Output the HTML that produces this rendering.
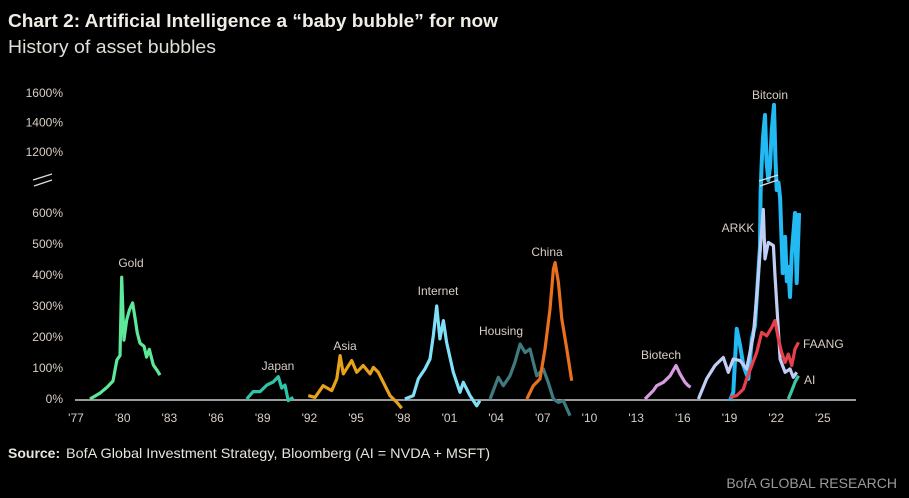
<!DOCTYPE html>
<html><head><meta charset="utf-8">
<style>
html,body{margin:0;padding:0;background:#000;width:909px;height:498px;overflow:hidden}
svg{display:block;font-family:"Liberation Sans",sans-serif}
</style></head>
<body>
<svg id="chart" width="909" height="498" viewBox="0 0 909 498">
<rect width="909" height="498" fill="#000"/>
<text x="8" y="27" font-size="18" font-weight="bold" fill="#f0ece6" textLength="490" lengthAdjust="spacingAndGlyphs">Chart 2: Artificial Intelligence a “baby bubble” for now</text>
<text x="8" y="53" font-size="18" fill="#e0dcd6" textLength="208" lengthAdjust="spacingAndGlyphs">History of asset bubbles</text>
<g id="yaxis"></g>
<g id="xaxis"></g>
<line x1="75" y1="400" x2="856" y2="400" stroke="#9a9a9a" stroke-width="2"/>
<g stroke="#ddd" stroke-width="1.3">
<line x1="33" y1="180" x2="52" y2="174"/><line x1="34" y1="186" x2="52" y2="180"/>
</g>
<g id="series"></g>
<g stroke="#ddd" stroke-width="1.3">
<line x1="759" y1="181" x2="778" y2="175"/><line x1="760" y1="186" x2="778" y2="180"/>
</g>
<g id="labels"></g>
<text x="8" y="458" font-size="14" fill="#e8e4de"><tspan font-weight="bold">Source:</tspan><tspan x="66" textLength="424" lengthAdjust="spacingAndGlyphs">BofA Global Investment Strategy, Bloomberg (AI = NVDA + MSFT)</tspan></text>
<text x="897" y="488" font-size="14" fill="#9a9a9a" text-anchor="end">BofA GLOBAL RESEARCH</text>
</svg>
<script>
const yTicks = [0,100,200,300,400,500,600,1200,1400,1600];
const xTicks = [1977,1980,1983,1986,1989,1992,1995,1998,2001,2004,2007,2010,2013,2016,2019,2022,2025];

const goldYears = [1977.9,1978.54,1979.0,1979.38,1979.63,1979.83,1979.94,1980.08,1980.26,1980.43,1980.64,1980.8,1980.94,1981.11,1981.37,1981.54,1981.71,1981.97,1982.19,1982.4];
const goldValues = [0,19,38,58,126,140,393,190,255,287,310,260,213,180,170,135,160,110,94,77];
const japanYears = [1987.97,1988.39,1988.83,1989.26,1989.68,1990.0,1990.22,1990.43,1990.64,1990.96];
const japanValues = [0,24,24,45,55,72,35,45,-5,5];
const asiaYears = [1991.93,1992.36,1992.89,1993.43,1993.76,1993.97,1994.18,1994.72,1995.04,1995.46,1995.9,1996.11,1996.43,1996.86,1997.18,1997.61,1997.93];
const asiaValues = [11,5,43,27,65,140,81,124,86,108,81,102,86,43,11,-10,-30];
const internetYears = [1998.14,1998.68,1999.0,1999.43,1999.75,1999.96,2000.18,2000.39,2000.61,2000.82,2001.25,2001.68,2001.89,2002.32,2002.75,2002.96];
const internetValues = [0,11,65,97,129,204,300,194,253,183,86,22,54,11,-22,-5];
const housingYears = [2003.61,2004.14,2004.46,2004.89,2005.21,2005.54,2005.86,2006.18,2006.61,2007.03,2007.35,2007.68,2008.0,2008.32,2008.75];
const housingValues = [0,70,43,75,118,177,150,161,75,97,54,0,-11,-5,-54];
const chinaYears = [2005.97,2006.39,2006.82,2007.14,2007.46,2007.68,2007.79,2008.0,2008.22,2008.54,2008.86];
const chinaValues = [0,43,65,161,290,419,440,376,258,161,59];
const biotechYears = [2013.57,2014.1,2014.32,2014.75,2015.18,2015.56,2015.82,2016.14,2016.35,2016.5];
const biotechValues = [0,27,43,54,75,108,81,54,43,38];
const arkkYears = [2017.0,2017.53,2018.07,2018.6,2018.92,2019.24,2019.68,2020.1,2020.53,2020.75,2020.96,2021.17,2021.28,2021.49,2021.82,2021.92,2022.25,2022.57,2022.89,2023.1,2023.32];
const arkkValues = [0,65,108,134,86,129,124,97,204,333,473,634,452,505,495,398,129,86,97,70,86];
const bitcoinYears = [2019.03,2019.24,2019.46,2019.68,2019.89,2020.21,2020.43,2020.64,2020.96,2021.0,2021.07,2021.15,2021.28,2021.38,2021.49,2021.6,2021.72,2021.86,2021.95,2022.03,2022.15,2022.25,2022.42,2022.57,2022.68,2022.78,2022.89,2023.0,2023.21,2023.32,2023.47];
const bitcoinValues = [-5,22,226,172,108,65,194,237,495,800,1092,1300,1451,1100,924,1050,1350,1519,1150,826,900,750,406,523,380,426,329,471,600,374,600];
const faangYears = [2019.03,2019.46,2019.89,2020.1,2020.43,2020.75,2021.07,2021.39,2021.71,2021.92,2022.14,2022.35,2022.57,2022.78,2023.0,2023.21,2023.43];
const faangValues = [5,11,32,65,108,151,215,204,231,253,194,151,118,145,108,161,183];
const aiYears = [2022.78,2023.0,2023.21,2023.43];
const aiValues = [0,27,54,75];

function xScale(yr){ return 76 + (yr-1977)*15.56; }
function yScale(v){
  if (v <= 600) return 399 - v*0.31;
  if (v <= 1200) return 213 - (v-600)*61/600;
  return 152 - (v-1200)*0.1475;
}
const NS = "http://www.w3.org/2000/svg";
const yG = document.getElementById('yaxis');
yTicks.forEach(t=>{
  const el=document.createElementNS(NS,'text');
  
  
  el.setAttribute('x',63); el.setAttribute('y',yScale(t)+4);
  el.setAttribute('font-size','12'); el.setAttribute('fill','#d8cfc4');
  el.setAttribute('text-anchor','end');
  el.textContent=t+'%'; yG.appendChild(el);
});
const xG = document.getElementById('xaxis');
xTicks.forEach(t=>{
  const el=document.createElementNS(NS,'text');
  
  
  el.setAttribute('x',xScale(t)); el.setAttribute('y',422);
  el.setAttribute('font-size','12'); el.setAttribute('fill','#d8cfc4');
  el.setAttribute('text-anchor','middle');
  el.textContent="'"+String(t).slice(2); xG.appendChild(el);
});
const series = [
  ['gold',goldYears,goldValues,'#5de89a','Gold',131,267,'middle',3.2],
  ['japan',japanYears,japanValues,'#2ec4a8','Japan',278,370,'middle',3.2],
  ['asia',asiaYears,asiaValues,'#e8a21a','Asia',345,350,'middle',3.2],
  ['internet',internetYears,internetValues,'#7fe0f8','Internet',438,295,'middle',3.2],
  ['housing',housingYears,housingValues,'#3f7a80','Housing',501,335,'middle',3.2],
  ['china',chinaYears,chinaValues,'#e8701e','China',547,256,'middle',3.2],
  ['biotech',biotechYears,biotechValues,'#d79be0','Biotech',661,359,'middle',3.2],
  ['bitcoin',bitcoinYears,bitcoinValues,'#23b9f2','Bitcoin',770,99,'middle',4],
  ['arkk',arkkYears,arkkValues,'#c0cdf5','ARKK',738,232,'middle',3.2],
  ['faang',faangYears,faangValues,'#e8404a','FAANG',803,348,'start',3.2],
  ['ai',aiYears,aiValues,'#3cc8a0','AI',804,384,'start',3.2]
];
const sG=document.getElementById('series'), lG=document.getElementById('labels');
series.forEach(s=>{
  const p=document.createElementNS(NS,'path');
  
  
  p.setAttribute('d', s[1].map((y,i)=>(i?'L':'M')+xScale(y).toFixed(1)+','+yScale(s[2][i]).toFixed(1)).join(''));
  p.setAttribute('fill','none'); p.setAttribute('stroke',s[3]);
  p.setAttribute('stroke-width',s[8]); p.setAttribute('stroke-linejoin','round');
  sG.appendChild(p);
  const t=document.createElementNS(NS,'text');
  
  
  t.setAttribute('x',s[5]); t.setAttribute('y',s[6]);
  t.setAttribute('font-size','12'); t.setAttribute('fill','#d8cfc4');
  t.setAttribute('text-anchor',s[7]);
  t.textContent=s[4]; lG.appendChild(t);
});
</script>
</body></html>
